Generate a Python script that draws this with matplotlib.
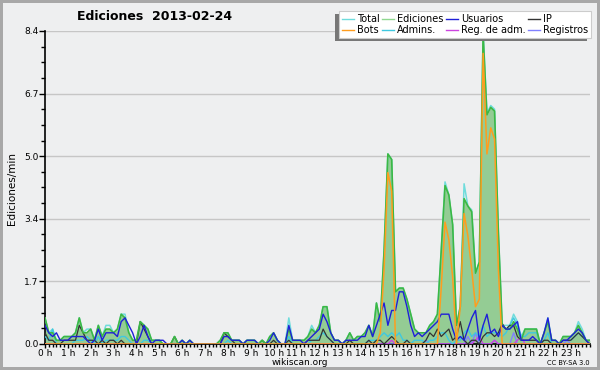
import numpy as np
import matplotlib
matplotlib.use('Agg')
import matplotlib.pyplot as plt
from matplotlib.lines import Line2D
from matplotlib.patches import Rectangle

# 10-minute samples over the day (edits per minute)
ediciones = [
    0.7, 0.3, 0.3, 0.1, 0.1, 0.2,   0.2, 0.2, 0.3, 0.7, 0.3, 0.3,
    0.4, 0.1, 0.5, 0.2, 0.4, 0.4,   0.3, 0.4, 0.8, 0.7, 0.3, 0.1,
    0.1, 0.6, 0.5, 0.4, 0.1, 0.1,   0.1, 0.0, 0.0, 0.0, 0.2, 0.0,
    0.1, 0.0, 0.1, 0.0, 0.0, 0.0,   0.0, 0.0, 0.0, 0.0, 0.1, 0.3,
    0.3, 0.1, 0.1, 0.1, 0.0, 0.1,   0.1, 0.1, 0.0, 0.1, 0.0, 0.2,
    0.3, 0.1, 0.0, 0.0, 0.4, 0.1,   0.1, 0.1, 0.1, 0.2, 0.4, 0.3,
    0.5, 1.0, 1.0, 0.3, 0.1, 0.1,   0.0, 0.1, 0.3, 0.1, 0.2, 0.2,
    0.3, 0.5, 0.2, 1.1, 0.6, 2.5,   5.1, 4.95, 1.4, 1.5, 1.5, 1.2,
    0.8, 0.4, 0.3, 0.3, 0.3, 0.5,   0.6, 0.8, 2.5, 4.25, 4.0, 3.2,
    0.5, 1.0, 3.9, 3.7, 3.55, 1.9,  2.2, 8.3, 6.15, 6.35, 6.25, 3.0,
    0.5, 0.4, 0.4, 0.6, 0.4, 0.1,   0.4, 0.4, 0.4, 0.4, 0.0, 0.3,
    0.6, 0.1, 0.1, 0.0, 0.2, 0.2,   0.2, 0.3, 0.5, 0.3, 0.1, 0.1,
]
total = [
    0.7, 0.3, 0.4, 0.1, 0.1, 0.2,   0.2, 0.2, 0.3, 0.7, 0.3, 0.4,
    0.4, 0.1, 0.5, 0.2, 0.5, 0.5,   0.3, 0.4, 0.8, 0.8, 0.3, 0.1,
    0.1, 0.6, 0.5, 0.4, 0.1, 0.1,   0.1, 0.0, 0.0, 0.0, 0.2, 0.0,
    0.1, 0.0, 0.1, 0.0, 0.0, 0.0,   0.0, 0.0, 0.0, 0.0, 0.1, 0.3,
    0.3, 0.1, 0.1, 0.1, 0.0, 0.1,   0.1, 0.1, 0.0, 0.1, 0.0, 0.2,
    0.3, 0.1, 0.0, 0.0, 0.7, 0.1,   0.1, 0.1, 0.1, 0.2, 0.5, 0.3,
    0.5, 1.0, 1.0, 0.3, 0.1, 0.1,   0.0, 0.1, 0.3, 0.1, 0.2, 0.2,
    0.3, 0.5, 0.2, 1.1, 0.6, 2.5,   5.1, 4.95, 1.4, 1.5, 1.5, 1.2,
    0.8, 0.4, 0.3, 0.3, 0.3, 0.5,   0.6, 0.8, 2.5, 4.35, 4.0, 3.2,
    0.5, 1.0, 4.3, 3.7, 3.6, 1.9,   2.2, 8.4, 6.2, 6.4, 6.3, 3.0,
    0.5, 0.5, 0.5, 0.8, 0.6, 0.2,   0.4, 0.4, 0.4, 0.4, 0.0, 0.3,
    0.7, 0.1, 0.1, 0.0, 0.2, 0.2,   0.2, 0.3, 0.6, 0.4, 0.1, 0.1,
]
usuarios = [
    0.5, 0.3, 0.2, 0.3, 0.1, 0.1,   0.1, 0.2, 0.2, 0.2, 0.2, 0.1,
    0.0, 0.1, 0.4, 0.1, 0.3, 0.3,   0.3, 0.2, 0.6, 0.7, 0.5, 0.3,
    0.0, 0.2, 0.5, 0.2, 0.0, 0.1,   0.1, 0.1, 0.0, 0.0, 0.0, 0.0,
    0.1, 0.0, 0.1, 0.0, 0.0, 0.0,   0.0, 0.0, 0.0, 0.0, 0.0, 0.2,
    0.2, 0.1, 0.1, 0.1, 0.0, 0.1,   0.1, 0.1, 0.0, 0.0, 0.0, 0.1,
    0.3, 0.1, 0.0, 0.0, 0.5, 0.1,   0.1, 0.1, 0.0, 0.1, 0.2, 0.3,
    0.4, 0.8, 0.6, 0.3, 0.1, 0.1,   0.0, 0.1, 0.1, 0.1, 0.1, 0.2,
    0.2, 0.5, 0.2, 0.5, 0.8, 1.1,   0.5, 0.9, 0.9, 1.4, 1.4, 1.0,
    0.5, 0.2, 0.3, 0.2, 0.3, 0.4,   0.5, 0.6, 0.8, 0.8, 0.8, 0.4,
    0.1, 0.2, 0.1, 0.4, 0.7, 0.9,   0.1, 0.5, 0.8, 0.3, 0.4, 0.2,
    0.5, 0.4, 0.4, 0.5, 0.6, 0.1,   0.1, 0.1, 0.2, 0.1, 0.0, 0.3,
    0.7, 0.1, 0.1, 0.0, 0.1, 0.1,   0.2, 0.3, 0.4, 0.3, 0.1, 0.0,
]
ip = [
    0.3, 0.1, 0.1, 0.0, 0.0, 0.1,   0.1, 0.1, 0.1, 0.5, 0.3, 0.1,
    0.1, 0.1, 0.0, 0.1, 0.0, 0.1,   0.1, 0.0, 0.1, 0.0, 0.0, 0.0,
    0.0, 0.6, 0.4, 0.2, 0.0, 0.0,   0.0, 0.0, 0.0, 0.0, 0.2, 0.0,
    0.0, 0.0, 0.0, 0.0, 0.0, 0.0,   0.0, 0.0, 0.0, 0.0, 0.0, 0.3,
    0.2, 0.1, 0.0, 0.0, 0.0, 0.0,   0.0, 0.0, 0.0, 0.1, 0.0, 0.0,
    0.1, 0.0, 0.0, 0.0, 0.1, 0.0,   0.0, 0.0, 0.0, 0.1, 0.1, 0.1,
    0.1, 0.4, 0.2, 0.1, 0.0, 0.0,   0.0, 0.0, 0.1, 0.0, 0.0, 0.0,
    0.0, 0.1, 0.0, 0.1, 0.1, 0.0,   0.1, 0.2, 0.1, 0.0, 0.0, 0.1,
    0.0, 0.0, 0.0, 0.0, 0.1, 0.3,   0.2, 0.4, 0.2, 0.3, 0.4, 0.1,
    0.2, 0.6, 0.1, 0.0, 0.1, 0.1,   0.0, 0.2, 0.3, 0.3, 0.2, 0.3,
    0.55, 0.4, 0.5, 0.5, 0.2, 0.1,  0.1, 0.1, 0.1, 0.1, 0.0, 0.1,
    0.1, 0.0, 0.0, 0.0, 0.1, 0.1,   0.1, 0.2, 0.3, 0.2, 0.1, 0.0,
]
bots = [0.0] * 88 + [
    0.3, 2.0,   4.6, 4.1, 0.0, 0.0, 0.0, 0.0,
    0.0, 0.0, 0.0, 0.0, 0.0, 0.0,   0.0, 0.0, 1.5, 3.27, 2.8, 1.8,
    0.0, 1.0, 3.5, 2.9, 2.0, 1.0,   1.2, 7.8, 5.1, 5.8, 5.5, 2.0,
] + [0.0] * 24
admins = [
    0.2, 0.1, 0.4, 0.0, 0.0, 0.0,   0.0, 0.0, 0.1, 0.1, 0.1, 0.2,
    0.1, 0.0, 0.2, 0.0, 0.1, 0.1,   0.1, 0.1, 0.2, 0.2, 0.1, 0.0,
    0.0, 0.0, 0.1, 0.1, 0.0, 0.0,   0.0, 0.0, 0.0, 0.0, 0.0, 0.0,
    0.0, 0.0, 0.0, 0.0, 0.0, 0.0,   0.0, 0.0, 0.0, 0.0, 0.0, 0.0,
    0.1, 0.0, 0.0, 0.0, 0.0, 0.0,   0.0, 0.0, 0.0, 0.0, 0.0, 0.0,
    0.0, 0.0, 0.0, 0.0, 0.2, 0.0,   0.0, 0.0, 0.0, 0.0, 0.1, 0.1,
    0.2, 0.3, 0.2, 0.1, 0.0, 0.0,   0.0, 0.0, 0.0, 0.0, 0.0, 0.0,
    0.0, 0.1, 0.1, 0.1, 0.2, 0.3,   0.2, 0.3, 0.2, 0.3, 0.1, 0.1,
    0.0, 0.1, 0.1, 0.1, 0.0, 0.1,   0.1, 0.2, 0.3, 0.3, 0.1, 0.0,
    0.1, 0.1, 0.3, 0.4, 0.2, 0.3,   0.2, 0.5, 0.2, 0.3, 0.3, 0.3,
    0.2, 0.3, 0.5, 0.7, 0.5, 0.2,   0.2, 0.3, 0.3, 0.3, 0.0, 0.1,
    0.3, 0.0, 0.0, 0.0, 0.1, 0.1,   0.1, 0.2, 0.3, 0.2, 0.1, 0.0,
]
reg_adm = [0.0] * 91 + [0.1] + [0.0] * 21 + [0.1, 0.2, 0.0, 0.0, 0.0, 0.1] + [0.0] * 5 + [0.1, 0.2] + [0.0] * 18
registros = [0.0] * 100 + [0.1] + [0.0] * 10 + [0.2, 0.0, 0.3] + [0.0] * 4 + [0.1] + [0.0] * 4 + [0.3] + [0.0] * 13 + [0.1] + [0.0] * 6
hour_labels = ['%d h' % h for h in range(24)]

x = np.arange(len(ediciones))

fig = plt.figure(figsize=(6, 3.7), dpi=100)
bg = '#eeeff0'
fig.patch.set_facecolor(bg)
fig.patch.set_edgecolor('#a8a8a8')
fig.patch.set_linewidth(3)
ax = fig.add_axes([0.075, 0.0703, 0.908, 0.846])
ax.set_facecolor(bg)

c_total = '#6fdcdc'
c_edic = '#3db843'
c_usu = '#1f1fd8'
c_ip = '#333333'
c_bots = '#ff9d1e'
c_adm = '#3fc8e0'
c_regadm = '#cc44e0'
c_reg = '#8080ff'

ax.fill_between(x, ediciones, color='#94cc94', lw=0, zorder=2)
ax.plot(x, total, color=c_total, lw=1.1, zorder=3)
ax.plot(x, registros, color=c_reg, lw=1, zorder=3)
ax.plot(x, reg_adm, color=c_regadm, lw=1, zorder=3)
ax.plot(x, admins, color=c_adm, lw=1, zorder=3)
ax.plot(x, ip, color=c_ip, lw=0.9, zorder=4)
ax.plot(x, usuarios, color=c_usu, lw=1, zorder=5)
ax.plot(x, bots, color=c_bots, lw=1.1, zorder=5)
ax.plot(x, ediciones, color=c_edic, lw=1.2, zorder=4)

ax.set_xlim(0, len(ediciones) - 1)
ax.set_ylim(0, 8.4)
yt = [8.4 * k / 5 for k in range(6)]
ax.set_yticks(yt)
ax.set_yticklabels(['%.1f' % v for v in yt])
ax.set_yticks([8.4 * k / 20 for k in range(21)], minor=True)
ax.set_xticks(np.arange(0, 144, 6))
ax.set_xticklabels(hour_labels)
ax.set_xticks(np.arange(0, 144), minor=True)
ax.tick_params(axis='both', labelsize=6.5, colors='black', pad=0.5)
ax.tick_params(axis='x', which='major', length=3.2, width=1)
ax.tick_params(axis='x', which='minor', length=2.2, width=1)
ax.tick_params(axis='y', which='major', length=4, width=1)
ax.tick_params(axis='y', which='minor', length=3, width=1)
ax.grid(axis='y', color='#c6c6c6', lw=1)
ax.set_axisbelow(True)
for s in ['top', 'right']:
    ax.spines[s].set_visible(False)
for s in ['left', 'bottom']:
    ax.spines[s].set_linewidth(1.2)

fig.text(0.257, 0.955, 'Ediciones  2013-02-24', ha='center', va='center',
         fontsize=9, fontweight='bold')
fig.text(0.02, 0.49, 'Ediciones/min', rotation=90, ha='center', va='center', fontsize=7.5)
fig.text(0.5, 0.019, 'wikiscan.org', ha='center', va='center', fontsize=6.5)
fig.text(0.983, 0.019, 'CC BY-SA 3.0', ha='right', va='center', fontsize=4.8)

names = ['Total', 'Bots', 'Ediciones', 'Admins.', 'Usuarios', 'Reg. de adm.', 'IP', 'Registros']
cols = [c_total, c_bots, '#90d890', c_adm, c_usu, c_regadm, c_ip, c_reg]
handles = [Line2D([], [], color=c, lw=1) for c in cols]
leg = fig.legend(handles, names, ncol=4, loc='upper right', bbox_to_anchor=(0.988, 0.975),
                 fontsize=7, frameon=True, fancybox=False, shadow=False,
                 facecolor='white', framealpha=1,
                 handlelength=1.2, handletextpad=0.3, columnspacing=0.3,
                 labelspacing=0.1, borderpad=0.3, borderaxespad=0.2)
leg.get_frame().set_edgecolor('#cccccc')
leg.get_frame().set_linewidth(0.8)
leg.set_zorder(10)

# shadow offset to the lower left, as in the original
fig.canvas.draw()
bb = leg.get_window_extent()
shadow = Rectangle((bb.x0 - 4, bb.y0 - 3), bb.width, bb.height, transform=None,
                   facecolor='#777777', edgecolor='none', zorder=9)
fig.add_artist(shadow)

fig.savefig('out.png', dpi=100, facecolor=fig.get_facecolor(), edgecolor=fig.patch.get_edgecolor())
